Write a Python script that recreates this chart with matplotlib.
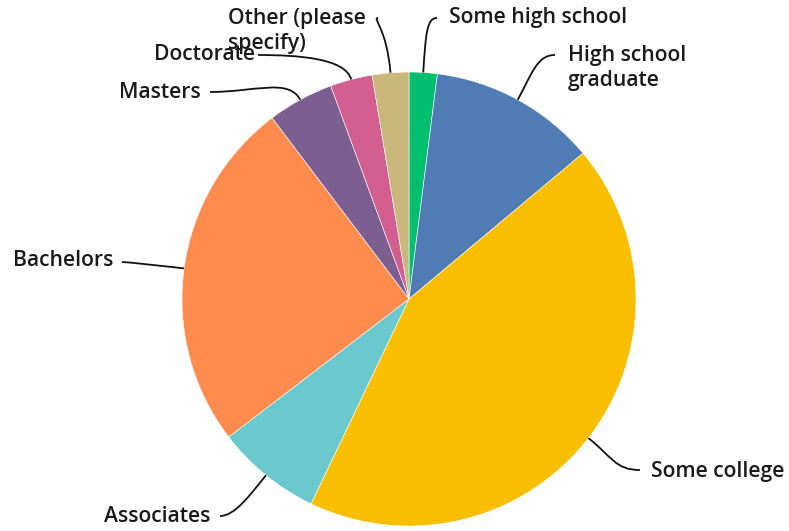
import matplotlib
matplotlib.use("Agg")
import matplotlib.pyplot as plt
import numpy as np
from matplotlib.path import Path
from matplotlib.patches import PathPatch

categories = ["Some high school", "High school\ngraduate", "Some college", "Associates",
              "Bachelors", "Masters", "Doctorate", "Other (please\nspecify)"]
values = [2.0, 11.9, 43.2, 7.5, 25.1, 4.7, 3.0, 2.6]
colors = ["#00BF6F", "#507CB6", "#F9BE00", "#6BC8CD", "#FF8B4F", "#7D5E90", "#D25F90", "#C9B77B"]

W, H = 789, 531
fig = plt.figure(figsize=(W / 100, H / 100), dpi=100)
ax = fig.add_axes([0, 0, 1, 1])

cx, cy, R = 409, H - 299, 227
wedges, _ = ax.pie(values, colors=colors, startangle=90, counterclock=False,
                   center=(cx, cy), radius=R, frame=True,
                   wedgeprops=dict(edgecolor="white", linewidth=0.4))
ax.set_xlim(0, W)
ax.set_ylim(0, H)
ax.set_aspect("equal")
ax.axis("off")

# label layout (pixel coords, y from top): end point of leader, text pos, ha, len radial, len horiz
layout = [
    ((437, 18), (449, 18), "left", 40, 10),
    ((555, 55), (568, 68), "left", 30, 18),
    ((640, 470), (651, 471), "left", 30, 25),
    ((220, 516), (210, 516), "right", 25, 15),
    ((122, 262), (113, 261), "right", 5, 5),
    ((210, 92), (201, 92), "right", 25, 45),
    ((258, 55), (255, 55), "right", 22, 40),
    ((378, 18), (228, 31), "left", 45, 6),
]

font = dict(family=["Open Sans", "DejaVu Sans"], fontsize=15.2, fontweight="semibold", color="#1a1a1a")

for w, (end, tpos, ha, l1, l2) in zip(wedges, layout):
    th = np.deg2rad((w.theta1 + w.theta2) / 2)
    ux, uy = np.cos(th), np.sin(th)
    p0 = np.array([cx + R * ux, cy + R * uy])
    p3 = np.array([end[0], H - end[1]])
    p1 = p0 + l1 * np.array([ux, uy])
    hdir = 1 if ha == "left" else -1
    p2 = p3 - hdir * np.array([l2, 0])
    path = Path([p0, p1, p2, p3], [Path.MOVETO, Path.CURVE4, Path.CURVE4, Path.CURVE4])
    ax.add_patch(PathPatch(path, fill=False, edgecolor="#111111", linewidth=1.3))

for lab, (end, tpos, ha, l1, l2) in zip(categories, layout):
    ax.text(tpos[0], H - tpos[1], lab, ha=ha, va="center", linespacing=1.3, **font)

fig.savefig("out.png", dpi=100)
